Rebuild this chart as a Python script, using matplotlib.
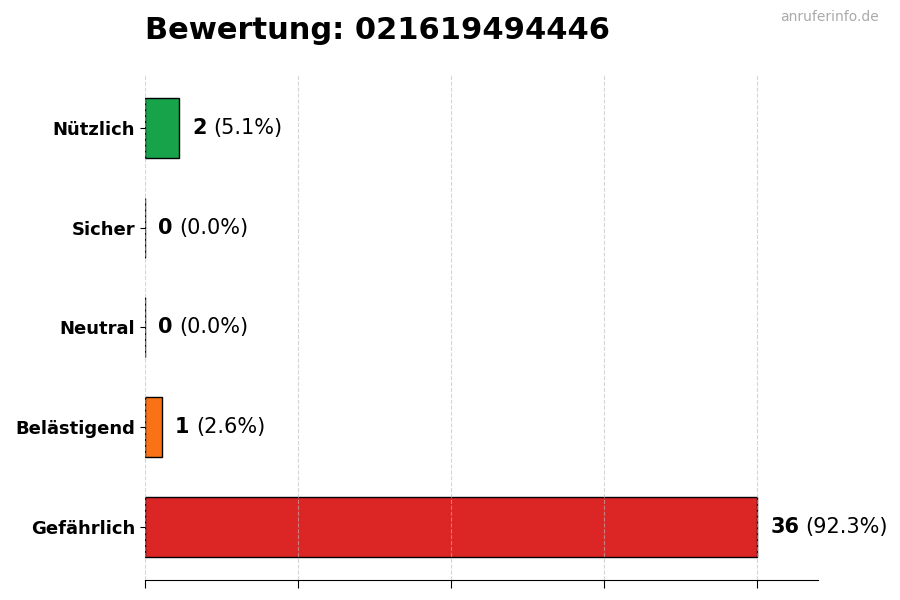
import matplotlib
matplotlib.use("Agg")
import matplotlib.pyplot as plt

categories = ["Gefährlich", "Belästigend", "Neutral", "Sicher", "Nützlich"]
counts = [36, 1, 0, 0, 2]
colors = ["#dc2626", "#f97316", "#9ca3af", "#3b82f6", "#16a34a"]
title = "Bewertung: 021619494446"
watermark = "anruferinfo.de"

total = sum(counts)
fig = plt.figure(figsize=(9, 6), dpi=100)
ax = fig.add_axes([0.161, 0.0333, 0.748, 0.842])

ypos = list(range(len(categories)))
ax.barh(ypos, counts, height=0.6, color=colors, edgecolor="black", linewidth=1, zorder=2)
ax.set_yticks(ypos)
ax.set_yticklabels(categories, fontsize=13, fontweight="bold")
ax.set_xlim(0, max(counts) * 1.1)
ax.set_xticks([0, 9, 18, 27, 36])
ax.set_xticklabels([])
ax.tick_params(axis="x", length=6)
ax.grid(axis="x", linestyle="--", color="#bbbbbb", alpha=0.6, linewidth=0.8, zorder=3)
ax.set_axisbelow(False)
for s in ["top", "right", "left"]:
    ax.spines[s].set_visible(False)

ax.set_title(title, loc="left", fontsize=22, fontweight="bold", pad=26)
fig.text(0.976, 0.971, watermark, ha="right", va="center", fontsize=10, color="#aaaaaa")

fig.canvas.draw()
renderer = fig.canvas.get_renderer()
for y, c in zip(ypos, counts):
    t1 = ax.annotate(str(c), xy=(c, y), xytext=(9.5, 0), textcoords="offset points",
                     ha="left", va="center", fontsize=15, fontweight="bold")
    bb = t1.get_window_extent(renderer=renderer)
    pct = f"({c / total * 100:.1f}%)"
    ax.annotate(pct, xy=(c, y), xytext=(9.5 + bb.width * 72 / fig.dpi + 4.5, 0),
                textcoords="offset points", ha="left", va="center", fontsize=15)

fig.savefig("out.png", dpi=100)
